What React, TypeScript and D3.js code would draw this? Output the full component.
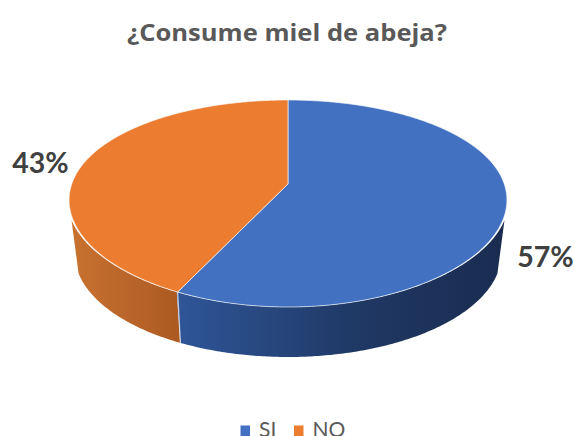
import React from "react";
import * as d3 from "d3";

const categories = ["SI", "NO"];
const shares = [57, 43];
const topColors = ["#4271C1", "#EB7C30"];
const sideStops = [
  ["#2F5597", "#1F3864", "#1A2C50"],
  ["#C87230", "#B9642A", "#AC5A20"],
];
const titleText = "¿Consume miel de abeja?";

const WIDTH = 575;
const HEIGHT = 436;
const TEXT_FONT = "Lato, 'Open Sans', sans-serif";
const TITLE_FONT = "'Open Sans', Lato, sans-serif";

// Tilted disc: a unit circle seen in perspective, with the apex above the ellipse centre.
const APEX_X = 288;
const APEX_Y = 184;
const SCALE_X = 215;
const SCALE_Y = 65.16;
const TILT = -0.1884;
const DEPTH = 50;
const BASE_SHRINK = 0.975;
const WALL_FLARE = 1.008;
const MID_Y = 203.5;
const HALF_Y = 103.5;
const FLANK_LIFT = 3.5;

function project(angle: number): [number, number] {
  const ux = Math.sin(angle);
  const uy = -Math.cos(angle);
  const w = 1 + TILT * uy;
  return [APEX_X + (SCALE_X * ux) / w, (APEX_Y + SCALE_Y * uy) / w];
}

// Upper rim: the flanks sit a little higher than a pure projection would put them.
function rim(angle: number): [number, number] {
  const [x, y] = project(angle);
  const v = (y - MID_Y) / HALF_Y;
  return [x, y - FLANK_LIFT * (1 - v * v)];
}

// The wall starts just outside the rim, so its shoulders show beside the top face.
function wallTop(angle: number): [number, number] {
  const [x, y] = rim(angle);
  return [APEX_X + (x - APEX_X) * WALL_FLARE, y];
}

function base(angle: number): [number, number] {
  const [x, y] = project(angle);
  return [APEX_X + (x - APEX_X) * BASE_SHRINK, y + DEPTH];
}

function samples(start: number, end: number): number[] {
  const steps = Math.max(2, Math.ceil(Math.abs(end - start) / 0.01));
  return d3.range(steps + 1).map((i) => start + ((end - start) * i) / steps);
}

const line = d3.line();

function topFace(start: number, end: number): string {
  return `M${APEX_X},${APEX_Y}` + "L" + samples(start, end).map((a) => rim(a).join(",")).join("L") + "Z";
}

// Wall swept as small quads so that the union keeps the true silhouette.
function wall(start: number, end: number): string {
  const pts = samples(start, end);
  let d = "";
  for (let i = 0; i < pts.length - 1; i++) {
    d += line([wallTop(pts[i]), wallTop(pts[i + 1]), base(pts[i + 1]), base(pts[i])]) + "Z";
  }
  return d;
}

export default function App() {
  const arcs = d3.pie<number>().sort(null)(shares);
  const total = d3.sum(shares);
  const labels = shares.map((v) => `${Math.round((v / total) * 100)}%`);
  const labelSpots: [number, number][] = [
    [545.5, 267],
    [40.5, 172.5],
  ];
  const legendX = [240.5, 294];

  const wallRanges: [number, number][] = [
    [Math.PI * 0.62, arcs[0].endAngle],
    [arcs[1].startAngle, Math.PI * 1.38],
  ];
  const seam = arcs[0].endAngle;

  return (
    <svg
      width={WIDTH}
      height={HEIGHT}
      viewBox={`0 0 ${WIDTH} ${HEIGHT}`}
      style={{ position: "absolute", left: 0, top: 0, background: "#fff" }}
    >
      <defs>
        <linearGradient id="wall-si" gradientUnits="userSpaceOnUse" x1={181} x2={505} y1={0} y2={0}>
          <stop offset="0" stopColor={sideStops[0][0]} />
          <stop offset="0.55" stopColor={sideStops[0][1]} />
          <stop offset="1" stopColor={sideStops[0][2]} />
        </linearGradient>
        <linearGradient id="wall-no" gradientUnits="userSpaceOnUse" x1={70} x2={181} y1={0} y2={0}>
          <stop offset="0" stopColor={sideStops[1][0]} />
          <stop offset="0.55" stopColor={sideStops[1][1]} />
          <stop offset="1" stopColor={sideStops[1][2]} />
        </linearGradient>
      </defs>

      <text
        x={287}
        y={41}
        textAnchor="middle"
        fontFamily={TITLE_FONT}
        fontWeight={700}
        fontSize={23}
        textLength={320}
        lengthAdjust="spacingAndGlyphs"
        fill="#595959"
      >
        {titleText}
      </text>

      <path d={wall(wallRanges[1][0], wallRanges[1][1])} fill="url(#wall-no)" />
      <path d={wall(wallRanges[0][0], wallRanges[0][1])} fill="url(#wall-si)" />
      <path
        d={line([rim(seam), base(seam)]) ?? ""}
        stroke="#fff"
        strokeOpacity={0.75}
        strokeWidth={1.2}
        fill="none"
      />

      {arcs.map((a, i) => (
        <path
          key={categories[i]}
          d={topFace(a.startAngle, a.endAngle)}
          fill={topColors[i]}
          stroke="#fff"
          strokeOpacity={0.7}
          strokeWidth={0.9}
          strokeLinejoin="round"
        />
      ))}

      {labels.map((t, i) => (
        <text
          key={t}
          x={labelSpots[i][0]}
          y={labelSpots[i][1]}
          textAnchor="middle"
          fontFamily={TEXT_FONT}
          fontWeight={700}
          fontSize={28.5}
          fill="#404040"
        >
          {t}
        </text>
      ))}

      {categories.map((c, i) => (
        <g key={c}>
          <rect x={legendX[i]} y={425.5} width={9.5} height={10.5} fill={topColors[i]} />
          <text
            x={legendX[i] + 18.5}
            y={437}
            fontFamily={TEXT_FONT}
            fontSize={21}
            fill="#595959"
          >
            {c}
          </text>
        </g>
      ))}
    </svg>
  );
}
